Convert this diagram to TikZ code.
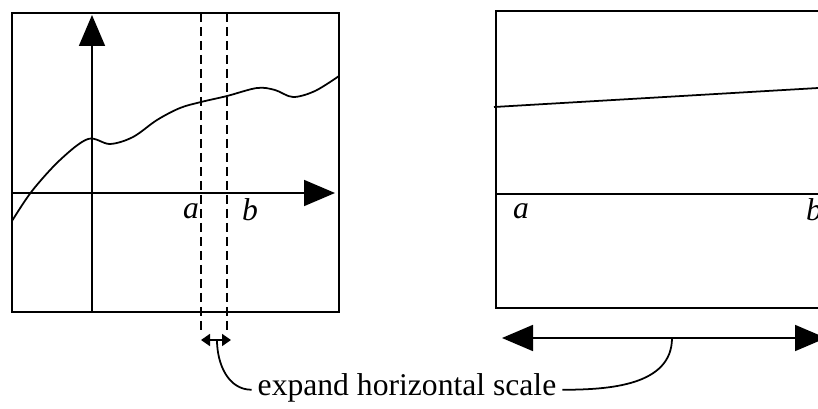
\documentclass[tikz,border=0pt]{standalone}
\usepackage{fontspec}
\setmainfont{Liberation Serif}
\usepackage{tikz}
\usetikzlibrary{arrows.meta,positioning}

\begin{document}
\begin{tikzpicture}[x=0.02cm, y=-0.02cm, line width=1pt,
    bigtip/.style={-{Triangle[length=0.62cm, width=0.52cm]}},
    bigboth/.style={{Triangle[length=0.62cm, width=0.52cm]}-{Triangle[length=0.62cm, width=0.52cm]}},
    smallboth/.style={{Triangle[length=0.18cm, width=0.24cm]}-{Triangle[length=0.18cm, width=0.24cm]}},
    cut/.style={dashed, dash pattern=on 0.18cm off 0.1cm},
    lab/.style={font=\fontsize{18}{20}\selectfont\itshape, inner sep=0pt}]
    \clip (0,0) rectangle (818,409);

    % Left plot: frame
    \draw (12,13) rectangle (339,312);
    % Axes
    \draw[bigtip] (92,312) -- (92,15);
    \draw[bigtip] (12,193) -- (335,193);
    % Function
    \draw plot[smooth, tension=0.55] coordinates {(12,221) (32,191) (60,160) (88,139) (110,144) (133,137)
        (157,120) (180,108) (201,102) (227,96) (257,88) (275,90) (293,97) (315,91) (339,76)};
    % Interval [a,b]
    \draw[cut] (201,13) -- (201,330);
    \draw[cut] (227,13) -- (227,330);
    \node[lab] (a1) at (191,211) {a};
    \node[lab] (b1) at (250,210) {b};

    % Right plot: frame
    \draw (496,11) rectangle (840,308);
    \draw (496,194) -- (840,194);
    \draw (494,107) -- (830,87.3);
    \node[lab] (a2) at (521,211) {a};
    \node[lab] (b2) at (814,210) {b};

    % Scale arrows
    \draw[smallboth] (201,340) -- (231,340);
    \coordinate (smid) at (217,340);
    \draw[bigboth] (502,338) -- (826,338);
    \coordinate (bmid) at (672,338);

    % Caption
    \node[font=\fontsize{18}{20}\selectfont, inner sep=3pt] (cap) at (407,388) {expand horizontal scale};
    \draw (smid) to[out=-90, in=180] ([yshift=-1pt]cap.west);
    \draw ([yshift=-1pt]cap.east) to[out=0, in=-90] (bmid);
\end{tikzpicture}
\end{document}
